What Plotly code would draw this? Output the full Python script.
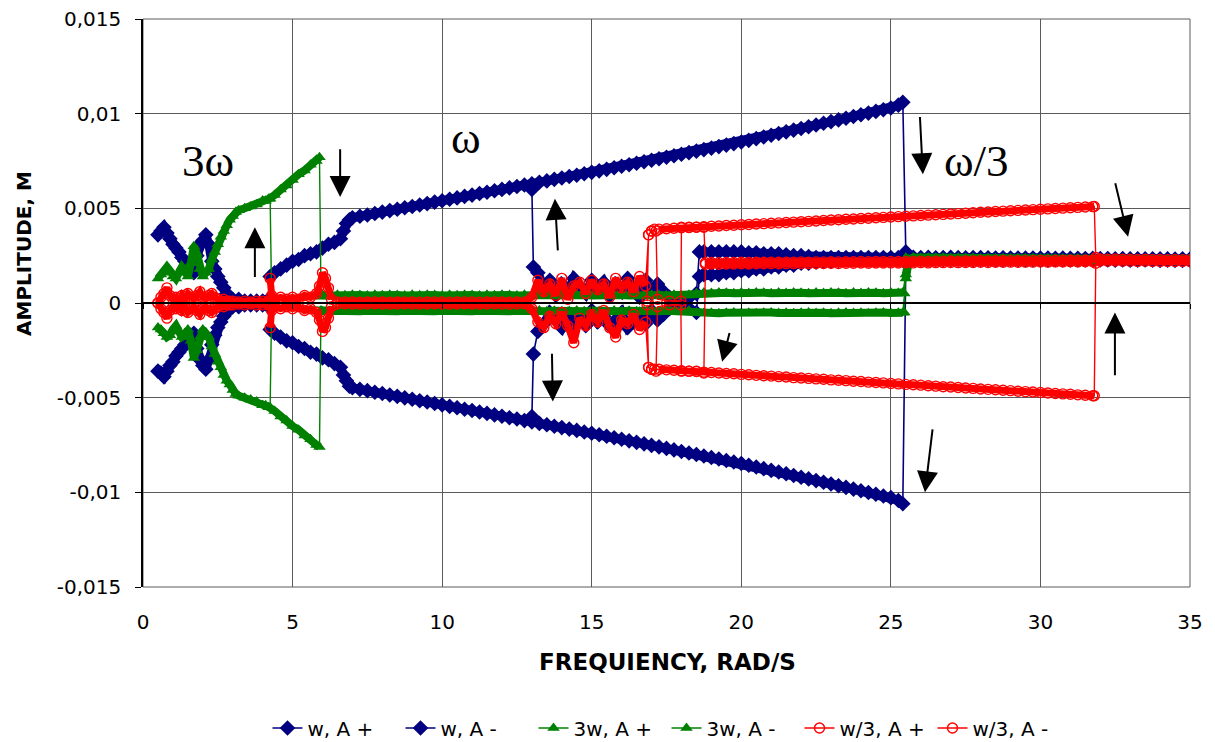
import plotly.graph_objects as go

# ---------------- frequency grids (rad/s) ----------------
X_A = [0.5, 0.6, 0.7, 0.8, 0.9, 1.0, 1.1, 1.2, 1.3, 1.4, 1.5, 1.6, 1.7, 1.8, 1.9,
       2.0, 2.1, 2.2, 2.3, 2.4, 2.5, 2.6, 2.7, 2.8, 2.9]
X_B = [3.0, 3.2, 3.4, 3.6, 3.8, 4.0, 4.2]
X_C = [4.25, 4.4, 4.6, 4.8, 5.0, 5.2, 5.4, 5.6, 5.8, 6.0, 6.2, 6.4, 6.6, 6.7, 6.8, 6.9]
X_D = [7.0, 7.25, 7.5, 7.75, 8.0, 8.25, 8.5, 8.75, 9.0, 9.25, 9.5, 9.75,
       10.0, 10.25, 10.5, 10.75, 11.0, 11.25, 11.5, 11.75, 12.0, 12.25, 12.5, 12.75,
       13.0, 13.25, 13.5, 13.75, 14.0, 14.25, 14.5, 14.75, 15.0, 15.25, 15.5, 15.75,
       16.0, 16.25, 16.5, 16.75, 17.0, 17.25, 17.5, 17.75, 18.0, 18.25, 18.5, 18.75,
       19.0, 19.25, 19.5, 19.75, 20.0, 20.25, 20.5, 20.75, 21.0, 21.25, 21.5, 21.75,
       22.0, 22.25, 22.5, 22.75, 23.0, 23.25, 23.5, 23.75, 24.0, 24.25, 24.5, 24.75,
       25.0, 25.25, 25.4]
X_E = [25.5, 25.6, 25.75, 26.0, 26.25, 26.5, 26.75, 27.0, 27.25, 27.5, 27.75, 28.0,
       28.25, 28.5, 28.75, 29.0, 29.25, 29.5, 29.75, 30.0, 30.25, 30.5, 30.75, 31.0,
       31.25, 31.5, 31.75, 32.0, 32.25, 32.5, 32.75, 33.0, 33.25, 33.5, 33.75, 34.0,
       34.25, 34.5, 34.75, 35.0]
X_F = [25.25, 25.0, 24.75, 24.5, 24.25, 24.0, 23.75, 23.5, 23.25, 23.0, 22.75, 22.5,
       22.25, 22.0, 21.75, 21.5, 21.25, 21.0, 20.75, 20.5, 20.25, 20.0, 19.75, 19.5,
       19.25, 19.0, 18.75, 18.6]
X_G = [18.5, 18.2, 17.9, 17.6, 17.4]
X_H = [17.2, 17.0, 16.8, 16.6, 16.4, 16.2, 16.0, 15.8, 15.6, 15.4, 15.2, 15.0, 14.8,
       14.6, 14.4, 14.2, 14.0, 13.8, 13.6, 13.4, 13.2]
X_I = [13.05, 13.0]

# ---------------- w (blue) ----------------
W_A_P = [0.0036, 0.0038, 0.0040, 0.0037, 0.0034, 0.0031, 0.0029, 0.0027, 0.0024, 0.0022,
         0.0020, 0.0018, 0.0016, 0.0025, 0.0031, 0.0033, 0.0036, 0.0031, 0.0022, 0.0018,
         0.0014, 0.0011, 0.0008, 0.0005, 0.0003]
W_A_M = [-0.0036, -0.0037, -0.0039, -0.0036, -0.0033, -0.0031, -0.0028, -0.0026, -0.0024, -0.0022,
         -0.0019, -0.0017, -0.0016, -0.0024, -0.0030, -0.0033, -0.0035, -0.0030, -0.0022, -0.0017,
         -0.0013, -0.0010, -0.0007, -0.0005, -0.0003]
W_B_P = [0.0002, 0.0002, 0.0001, 0.0001, 0.0001, 0.0001, 0.0002]
W_B_M = [-0.0002, -0.0002, -0.0001, -0.0001, -0.0001, -0.0001, -0.0002]
W_C_P = [0.0014, 0.0016, 0.0018, 0.0020, 0.0022, 0.0023, 0.0025, 0.0026, 0.0027, 0.0029,
         0.0031, 0.0032, 0.0034, 0.0038, 0.0042, 0.0044]
W_C_M = [-0.0014, -0.0016, -0.0018, -0.0020, -0.0021, -0.0023, -0.0024, -0.0026, -0.0027, -0.0029,
         -0.0030, -0.0032, -0.0034, -0.0038, -0.0041, -0.0044]
W_D_P = [0.00450, 0.00458, 0.00465, 0.00473, 0.00480, 0.00488, 0.00495, 0.00503, 0.00510, 0.00518, 0.00525, 0.00533,
         0.00540, 0.00548, 0.00555, 0.00563, 0.00570, 0.00578, 0.00585, 0.00593, 0.00600, 0.00608, 0.00615, 0.00623,
         0.00630, 0.00638, 0.00645, 0.00653, 0.00660, 0.00668, 0.00675, 0.00683, 0.00690, 0.00698, 0.00706, 0.00714,
         0.00722, 0.00730, 0.00738, 0.00746, 0.00754, 0.00762, 0.00770, 0.00778, 0.00786, 0.00794, 0.00802, 0.00810,
         0.00818, 0.00826, 0.00834, 0.00842, 0.00850, 0.00859, 0.00868, 0.00877, 0.00886, 0.00895, 0.00904, 0.00913,
         0.00922, 0.00931, 0.00940, 0.00949, 0.00958, 0.00967, 0.00976, 0.00985, 0.00994, 0.01003, 0.01012, 0.01021,
         0.01030, 0.01045, 0.01060]
W_D_M = [-0.00448, -0.00456, -0.00463, -0.00471, -0.00478, -0.00486, -0.00493, -0.00501, -0.00508, -0.00516, -0.00523, -0.00531,
         -0.00538, -0.00546, -0.00553, -0.00561, -0.00568, -0.00576, -0.00583, -0.00591, -0.00598, -0.00606, -0.00613, -0.00621,
         -0.00628, -0.00636, -0.00643, -0.00651, -0.00658, -0.00666, -0.00673, -0.00681, -0.00688, -0.00696, -0.00704, -0.00712,
         -0.00720, -0.00728, -0.00736, -0.00744, -0.00752, -0.00760, -0.00768, -0.00776, -0.00784, -0.00792, -0.00800, -0.00808,
         -0.00816, -0.00824, -0.00832, -0.00840, -0.00848, -0.00857, -0.00866, -0.00875, -0.00884, -0.00893, -0.00902, -0.00911,
         -0.00920, -0.00929, -0.00938, -0.00947, -0.00956, -0.00965, -0.00974, -0.00983, -0.00992, -0.01001, -0.01010, -0.01019,
         -0.01028, -0.01043, -0.01060]
W_E_P = [0.0027, 0.0025, 0.00242, 0.00240, 0.00241, 0.00239, 0.00240, 0.00241, 0.00240, 0.00239, 0.00240, 0.00240,
         0.00239, 0.00238, 0.00239, 0.00238, 0.00238, 0.00237, 0.00238, 0.00237, 0.00237, 0.00236, 0.00237, 0.00236,
         0.00236, 0.00235, 0.00236, 0.00235, 0.00235, 0.00234, 0.00235, 0.00234, 0.00234, 0.00233, 0.00234, 0.00233,
         0.00233, 0.00232, 0.00233, 0.00232]
W_E_M = [0.0021, 0.0022, 0.00230, 0.00231, 0.00230, 0.00231, 0.00230, 0.00230, 0.00231, 0.00230, 0.00229, 0.00230,
         0.00230, 0.00229, 0.00229, 0.00230, 0.00229, 0.00228, 0.00229, 0.00228, 0.00228, 0.00229, 0.00228, 0.00227,
         0.00228, 0.00227, 0.00227, 0.00228, 0.00227, 0.00226, 0.00227, 0.00226, 0.00226, 0.00227, 0.00226, 0.00225,
         0.00226, 0.00225, 0.00225, 0.00226]
W_F_P = [0.0024, 0.0024, 0.0024, 0.0024, 0.0024, 0.0024, 0.0024, 0.0024, 0.0024, 0.0024, 0.0024, 0.0024,
         0.00245, 0.0025, 0.0025, 0.00255, 0.0026, 0.0026, 0.0026, 0.00265, 0.00265, 0.0027, 0.0027, 0.0027,
         0.0027, 0.0027, 0.0027, 0.0027]
W_F_M = [0.0023, 0.0023, 0.0023, 0.0023, 0.0023, 0.0023, 0.0023, 0.0023, 0.00225, 0.0022, 0.0022, 0.00215,
         0.0021, 0.0021, 0.0020, 0.0020, 0.0019, 0.0019, 0.0018, 0.0018, 0.0017, 0.0017, 0.0016, 0.0016,
         0.0015, 0.0015, 0.0015, 0.0014]
W_G_P = [0.0005, 0.0002, 0.0002, 0.0003, 0.0006]
W_G_M = [-0.0005, -0.0002, -0.0002, -0.0003, -0.0006]
W_H_P = [0.0010, 0.0005, 0.0012, 0.0003, 0.0008, 0.0013, 0.0006, 0.0010, 0.0004, 0.0011, 0.0007, 0.0012,
         0.0005, 0.0009, 0.0013, 0.0006, 0.0010, 0.0004, 0.0012, 0.0008, 0.0016]
W_H_M = [-0.0009, -0.0004, -0.0011, -0.0006, -0.0010, -0.0013, -0.0005, -0.0009, -0.0012, -0.0007, -0.0010, -0.0004,
         -0.0012, -0.0008, -0.0011, -0.0006, -0.0013, -0.0009, -0.0005, -0.0011, -0.0015]
W_I_P = [0.0019, 0.0060]
W_I_M = [-0.0027, -0.0060]

# ---------------- 3w (green) ----------------
X_GB = [3.0, 3.1, 3.2, 3.4, 3.6, 3.8, 4.0, 4.2, 4.4, 4.6, 4.8, 5.0, 5.2, 5.4, 5.6, 5.8, 5.9]
X_GC = [5.95, 6.0, 6.25, 6.5, 6.75, 7.0, 7.25, 7.5, 7.75, 8.0, 8.25, 8.5, 8.75, 9.0, 9.25, 9.5, 9.75,
        10.0, 10.25, 10.5, 10.75, 11.0, 11.25, 11.5, 11.75, 12.0, 12.25, 12.5, 12.75, 13.0, 13.25, 13.5,
        13.75, 14.0, 14.25, 14.5, 14.75, 15.0, 15.25, 15.5, 15.75, 16.0, 16.25, 16.5, 16.75, 17.0, 17.25,
        17.5, 17.75, 18.0, 18.25, 18.5, 18.75, 19.0, 19.25, 19.5, 19.75, 20.0, 20.25, 20.5, 20.75, 21.0,
        21.25, 21.5, 21.75, 22.0, 22.25, 22.5, 22.75, 23.0, 23.25, 23.5, 23.75, 24.0, 24.25, 24.5, 24.75,
        25.0, 25.25, 25.4]
X_GF = [25.5, 25.45, 4.3, 4.25, 4.1, 4.0]

G_A_P = [0.0013, 0.0015, 0.0016, 0.0019, 0.0017, 0.0014, 0.0013, 0.0016, 0.0019, 0.0017,
         0.0014, 0.0021, 0.0030, 0.0026, 0.0018, 0.0014, 0.0016, 0.0018, 0.0023, 0.0027,
         0.0031, 0.0035, 0.0038, 0.0041, 0.0044]
G_A_M = [-0.0013, -0.0014, -0.0016, -0.0018, -0.0017, -0.0014, -0.0012, -0.0015, -0.0018, -0.0017,
         -0.0014, -0.0020, -0.0029, -0.0025, -0.0018, -0.0014, -0.0016, -0.0018, -0.0023, -0.0027,
         -0.0031, -0.0034, -0.0038, -0.0041, -0.0043]
G_B_P = [0.0046, 0.0048, 0.0049, 0.0050, 0.0051, 0.0052, 0.0054, 0.0055, 0.0057, 0.0060,
         0.0062, 0.0065, 0.0068, 0.0070, 0.0073, 0.0075, 0.0077]
G_B_M = [-0.0046, -0.0048, -0.0049, -0.0050, -0.0051, -0.0052, -0.0054, -0.0055, -0.0057, -0.0060,
         -0.0062, -0.0065, -0.0067, -0.0070, -0.0072, -0.0075, -0.0076]
G_C_P = [0.00040,
         0.00042, 0.00040, 0.00043, 0.00041, 0.00044, 0.00042, 0.00040, 0.00043, 0.00041, 0.00044,
         0.00042, 0.00040, 0.00043, 0.00041, 0.00044, 0.00042, 0.00040, 0.00043, 0.00041, 0.00044,
         0.00042, 0.00040, 0.00043, 0.00041, 0.00044, 0.00042, 0.00040, 0.00043, 0.00041, 0.00044,
         0.00042, 0.00040, 0.00043, 0.00041, 0.00044, 0.00042, 0.00040, 0.00043, 0.00041, 0.00044,
         0.00042, 0.00040, 0.00043, 0.00041, 0.00044, 0.00042, 0.00040, 0.00043, 0.00041, 0.00044,
         0.00052, 0.00055, 0.00053, 0.00056, 0.00054, 0.00052, 0.00055, 0.00053, 0.00056, 0.00054,
         0.00052, 0.00055, 0.00053, 0.00056, 0.00054, 0.00052, 0.00055, 0.00053, 0.00056, 0.00054,
         0.00052, 0.00055, 0.00053, 0.00056, 0.00054, 0.00052, 0.00055, 0.00053,
         0.00055]
G_C_M = [-0.00040,
         -0.00043, -0.00041, -0.00044, -0.00042, -0.00040, -0.00043, -0.00041, -0.00044, -0.00042, -0.00040,
         -0.00043, -0.00041, -0.00044, -0.00042, -0.00040, -0.00043, -0.00041, -0.00044, -0.00042, -0.00040,
         -0.00043, -0.00041, -0.00044, -0.00042, -0.00040, -0.00043, -0.00041, -0.00044, -0.00042, -0.00040,
         -0.00043, -0.00041, -0.00044, -0.00042, -0.00040, -0.00043, -0.00041, -0.00044, -0.00042, -0.00040,
         -0.00043, -0.00041, -0.00044, -0.00042, -0.00040, -0.00043, -0.00041, -0.00044, -0.00042, -0.00040,
         -0.00050, -0.00053, -0.00051, -0.00054, -0.00052, -0.00050, -0.00053, -0.00051, -0.00054, -0.00052,
         -0.00050, -0.00053, -0.00051, -0.00054, -0.00052, -0.00050, -0.00053, -0.00051, -0.00054, -0.00052,
         -0.00050, -0.00053, -0.00051, -0.00054, -0.00052, -0.00050, -0.00053, -0.00051,
         -0.00052]
G_E_P = [0.0015, 0.0023, 0.00240, 0.00239, 0.00240, 0.00239, 0.00239, 0.00238, 0.00239, 0.00238, 0.00238, 0.00237,
         0.00238, 0.00237, 0.00237, 0.00236, 0.00237, 0.00236, 0.00236, 0.00235, 0.00236, 0.00235, 0.00235, 0.00234,
         0.00235, 0.00234, 0.00234, 0.00233, 0.00234, 0.00233, 0.00233, 0.00233, 0.00232, 0.00233, 0.00232, 0.00232,
         0.00231, 0.00232, 0.00231, 0.00231]
G_E_M = [0.0013, 0.0022, 0.00232, 0.00231, 0.00232, 0.00231, 0.00231, 0.00230, 0.00231, 0.00230, 0.00230, 0.00229,
         0.00230, 0.00229, 0.00229, 0.00228, 0.00229, 0.00228, 0.00228, 0.00227, 0.00228, 0.00227, 0.00227, 0.00226,
         0.00227, 0.00226, 0.00226, 0.00225, 0.00226, 0.00225, 0.00225, 0.00225, 0.00224, 0.00225, 0.00224, 0.00224,
         0.00223, 0.00224, 0.00223, 0.00223]
G_F_P = [0.0024, 0.0005, 0.0002, 0.0055, 0.0054, 0.0054]
G_F_M = [0.0023, -0.0005, -0.0002, -0.0055, -0.0054, -0.0054]

# ---------------- w/3 (red) ----------------
X_RC = [4.25, 4.3, 4.4, 4.6, 4.8, 5.0, 5.2, 5.4, 5.6, 5.8, 5.9, 6.0, 6.1, 6.2, 6.3]
X_RD = [6.5, 6.75, 7.0, 7.25, 7.5, 7.75, 8.0, 8.25, 8.5, 8.75, 9.0, 9.25, 9.5, 9.75, 10.0, 10.25,
        10.5, 10.75, 11.0, 11.25, 11.5, 11.75, 12.0, 12.25, 12.5, 12.75]
X_RE = [13.0, 13.2, 13.4, 13.6, 13.8, 14.0, 14.2, 14.4, 14.6, 14.8, 15.0, 15.2, 15.4, 15.6, 15.8,
        16.0, 16.2, 16.4, 16.6, 16.8]
X_RF = [16.9, 17.0, 17.1]
X_RG = [17.25, 17.5, 17.75, 18.0, 18.25, 18.5, 18.75, 19.0, 19.25, 19.5, 19.75, 20.0, 20.25, 20.5,
        20.75, 21.0, 21.25, 21.5, 21.75, 22.0, 22.25, 22.5, 22.75, 23.0, 23.25, 23.5, 23.75, 24.0,
        24.25, 24.5, 24.75, 25.0, 25.25, 25.5, 25.75, 26.0, 26.25, 26.5, 26.75, 27.0, 27.25, 27.5,
        27.75, 28.0, 28.25, 28.5, 28.75, 29.0, 29.25, 29.5, 29.75, 30.0, 30.25, 30.5, 30.75, 31.0,
        31.25, 31.5, 31.75, 31.8]
X_RH = [31.85, 32.0, 32.25, 32.5, 32.75, 33.0, 33.25, 33.5, 33.75, 34.0, 34.25, 34.5, 34.75, 35.0]
X_RI = [31.75, 31.5, 31.25, 31.0, 30.75, 30.5, 30.25, 30.0, 29.75, 29.5, 29.25, 29.0, 28.75, 28.5,
        28.25, 28.0, 27.75, 27.5, 27.25, 27.0, 26.75, 26.5, 26.25, 26.0, 25.75, 25.5, 25.25, 25.0,
        24.75, 24.5, 24.25, 24.0, 23.75, 23.5, 23.25, 23.0, 22.75, 22.5, 22.25, 22.0, 21.75, 21.5,
        21.25, 21.0, 20.75, 20.5, 20.25, 20.0, 19.75, 19.5, 19.25, 19.0, 18.8]
X_RJ = [18.75, 18.5, 18.25, 18.0, 17.98, 17.6, 17.2, 17.15, 17.0, 16.9, 16.85]

R_A_P = [0.0000, 0.0003, 0.0005, 0.0008, 0.0004, 0.0002, 0.0003, 0.0001, 0.0004, 0.0002,
         0.0005, 0.0003, 0.0002, 0.0004, 0.0006, 0.0003, 0.0002, 0.0004, 0.0005, 0.0003,
         0.0002, 0.0001, 0.0002, 0.0001, 0.0001]
R_A_M = [0.0000, -0.0003, -0.0005, -0.0008, -0.0004, -0.0002, -0.0003, -0.0001, -0.0004, -0.0002,
         -0.0005, -0.0003, -0.0002, -0.0004, -0.0006, -0.0003, -0.0002, -0.0004, -0.0005, -0.0003,
         -0.0002, -0.0001, -0.0002, -0.0001, -0.0001]
R_B_P = [0.0001, 0.00005, 0.0001, 0.00005, 0.0001, 0.0001, 0.0001]
R_B_M = [-0.0001, -0.00005, -0.0001, -0.00005, -0.0001, -0.0001, -0.0001]
R_C_P = [0.0013, 0.0004, 0.0002, 0.0003, 0.0002, 0.0003, 0.0002, 0.0004, 0.0003, 0.0005,
         0.0009, 0.0016, 0.0013, 0.0008, 0.0002]
R_C_M = [-0.0013, -0.0004, -0.0002, -0.0003, -0.0002, -0.0003, -0.0002, -0.0004, -0.0003, -0.0005,
         -0.0009, -0.0015, -0.0013, -0.0008, -0.0002]
R_D_P = [0.00005, 0.00006, 0.00005, 0.00004, 0.00005, 0.00006, 0.00005, 0.00004, 0.00005, 0.00006,
         0.00005, 0.00004, 0.00005, 0.00006, 0.00005, 0.00004, 0.00005, 0.00006, 0.00005, 0.00004,
         0.00005, 0.00006, 0.00005, 0.00004, 0.00005, 0.00006]
R_D_M = [-0.00005, -0.00004, -0.00005, -0.00006, -0.00005, -0.00004, -0.00005, -0.00006, -0.00005, -0.00004,
         -0.00005, -0.00006, -0.00005, -0.00004, -0.00005, -0.00006, -0.00005, -0.00004, -0.00005, -0.00006,
         -0.00005, -0.00004, -0.00005, -0.00006, -0.00005, -0.00004]
R_E_P = [0.0003, 0.0012, 0.0006, 0.0010, 0.0004, 0.0013, 0.0002, 0.0009, 0.0011, 0.0005,
         0.0012, 0.0007, 0.0010, 0.0003, 0.0013, 0.0008, 0.0011, 0.0006, 0.0014, 0.0009]
R_E_M = [-0.0003, -0.0010, -0.0013, -0.0007, -0.0011, -0.0005, -0.0012, -0.0021, -0.0008, -0.0012,
         -0.0006, -0.0010, -0.0004, -0.0013, -0.0018, -0.0009, -0.0011, -0.0006, -0.0014, -0.0010]
R_F_P = [0.0036, 0.0038, 0.0039]
R_F_M = [-0.0034, -0.0035, -0.0035]
R_G_P = [0.00390, 0.00392, 0.00395, 0.00397, 0.00399, 0.00401, 0.00403, 0.00405, 0.00407, 0.00409,
         0.00411, 0.00413, 0.00415, 0.00417, 0.00419, 0.00421, 0.00423, 0.00425, 0.00427, 0.00429,
         0.00431, 0.00433, 0.00436, 0.00438, 0.00440, 0.00442, 0.00444, 0.00446, 0.00448, 0.00450,
         0.00452, 0.00454, 0.00456, 0.00458, 0.00460, 0.00462, 0.00464, 0.00466, 0.00468, 0.00470,
         0.00472, 0.00474, 0.00477, 0.00479, 0.00481, 0.00483, 0.00485, 0.00487, 0.00489, 0.00491,
         0.00493, 0.00495, 0.00497, 0.00499, 0.00501, 0.00503, 0.00505, 0.00507, 0.00509, 0.00510]
R_G_M = [-0.00350, -0.00353, -0.00355, -0.00358, -0.00360, -0.00362, -0.00365, -0.00367, -0.00370, -0.00372,
         -0.00374, -0.00377, -0.00379, -0.00382, -0.00384, -0.00386, -0.00389, -0.00391, -0.00394, -0.00396,
         -0.00398, -0.00401, -0.00403, -0.00406, -0.00408, -0.00410, -0.00413, -0.00415, -0.00418, -0.00420,
         -0.00422, -0.00425, -0.00427, -0.00430, -0.00432, -0.00434, -0.00437, -0.00439, -0.00442, -0.00444,
         -0.00446, -0.00449, -0.00451, -0.00454, -0.00456, -0.00458, -0.00461, -0.00463, -0.00466, -0.00468,
         -0.00470, -0.00473, -0.00475, -0.00478, -0.00480, -0.00482, -0.00485, -0.00487, -0.00490, -0.00490]
R_H_P = [0.0024, 0.00232, 0.00231, 0.00232, 0.00231, 0.00231, 0.00230, 0.00231, 0.00230, 0.00230,
         0.00229, 0.00230, 0.00229, 0.00229]
R_H_M = [0.0021, 0.00222, 0.00221, 0.00222, 0.00221, 0.00221, 0.00220, 0.00221, 0.00220, 0.00220,
         0.00219, 0.00220, 0.00219, 0.00219]
R_I_P = [0.00226, 0.00226, 0.00225, 0.00226, 0.00225, 0.00225, 0.00224, 0.00225, 0.00224, 0.00224,
         0.00223, 0.00224, 0.00223, 0.00223, 0.00222, 0.00223, 0.00222, 0.00222, 0.00221, 0.00222,
         0.00221, 0.00221, 0.00220, 0.00221, 0.00220, 0.00220, 0.00219, 0.00220, 0.00219, 0.00219,
         0.00218, 0.00219, 0.00218, 0.00218, 0.00217, 0.00218, 0.00217, 0.00217, 0.00216, 0.00217,
         0.00216, 0.00216, 0.00215, 0.00216, 0.00215, 0.00215, 0.00214, 0.00215, 0.00214, 0.00214,
         0.00213, 0.00214, 0.00213]
R_I_M = [0.00218, 0.00218, 0.00217, 0.00218, 0.00217, 0.00217, 0.00216, 0.00217, 0.00216, 0.00216,
         0.00215, 0.00216, 0.00215, 0.00215, 0.00214, 0.00215, 0.00214, 0.00214, 0.00213, 0.00214,
         0.00213, 0.00213, 0.00212, 0.00213, 0.00212, 0.00212, 0.00211, 0.00212, 0.00211, 0.00211,
         0.00210, 0.00211, 0.00210, 0.00210, 0.00209, 0.00210, 0.00209, 0.00209, 0.00208, 0.00209,
         0.00208, 0.00208, 0.00207, 0.00208, 0.00207, 0.00207, 0.00206, 0.00207, 0.00206, 0.00206,
         0.00205, 0.00206, 0.00205]
R_J_P = [0.0040, 0.0040, 0.0040, 0.0040, 0.0001, 0.0001, 0.0002, 0.0038, 0.0038, 0.0036, 0.0001]
R_J_M = [-0.0037, -0.0036, -0.0036, -0.0036, -0.0001, -0.0001, -0.0002, -0.0036, -0.0035, -0.0034, -0.0001]

# ---------------- axis ticks / names ----------------
X_TICKS = [0, 5, 10, 15, 20, 25, 30, 35]
Y_TICKS = [-0.015, -0.01, -0.005, 0, 0.005, 0.01, 0.015]
Y_TICK_TEXT = ["-0,015", "-0,01", "-0,005", "0", "0,005", "0,01", "0,015"]
SERIES_NAMES = ["w, A +", "w, A -", "3w, A +", "3w, A -", "w/3, A +", "w/3, A -"]


def join(xs, ys):
    ox, oy = [], []
    for a, b in zip(xs, ys):
        assert len(a) == len(b), (len(a), len(b))
        ox += a
        oy += b
    return ox, oy


def pieces(parts):
    """Dense-marker bands: several joined pieces separated by gaps."""
    ox, oy = [], []
    for xs, ys in parts:
        px, py = join(xs, ys)
        ox += px + [None]
        oy += py + [None]
    return ox, oy


SERIES = [
    (join([X_A, X_B, X_C, X_D, X_E, X_F, X_G, X_H, X_I],
          [W_A_P, W_B_P, W_C_P, W_D_P, W_E_P, W_F_P, W_G_P, W_H_P, W_I_P]),
     pieces([([X_A, X_B], [W_A_P, W_B_P]), ([X_C, X_D], [W_C_P, W_D_P]), ([X_E], [W_E_P]),
             ([X_F], [W_F_P]), ([X_H], [W_H_P])])),
    (join([X_A, X_B, X_C, X_D, X_E, X_F, X_G, X_H, X_I],
          [W_A_M, W_B_M, W_C_M, W_D_M, W_E_M, W_F_M, W_G_M, W_H_M, W_I_M]),
     pieces([([X_A, X_B], [W_A_M, W_B_M]), ([X_C, X_D], [W_C_M, W_D_M]), ([X_E], [W_E_M]),
             ([X_F], [W_F_M]), ([X_H], [W_H_M])])),
    (join([X_A, X_GB, X_GC, X_E, X_GF], [G_A_P, G_B_P, G_C_P, G_E_P, G_F_P]),
     pieces([([X_A, X_GB], [G_A_P, G_B_P]), ([X_GC], [G_C_P]), ([X_E], [G_E_P])])),
    (join([X_A, X_GB, X_GC, X_E, X_GF], [G_A_M, G_B_M, G_C_M, G_E_M, G_F_M]),
     pieces([([X_A, X_GB], [G_A_M, G_B_M]), ([X_GC], [G_C_M]), ([X_E], [G_E_M])])),
    (join([X_A, X_B, X_RC, X_RD, X_RE, X_RF, X_RG, X_RH, X_RI, X_RJ],
          [R_A_P, R_B_P, R_C_P, R_D_P, R_E_P, R_F_P, R_G_P, R_H_P, R_I_P, R_J_P]),
     pieces([([X_A, X_B], [R_A_P, R_B_P]), ([X_RC], [R_C_P]), ([X_RD, X_RE], [R_D_P, R_E_P]),
             ([X_RG], [R_G_P]), ([X_RH], [R_H_P]), ([X_RI], [R_I_P])])),
    (join([X_A, X_B, X_RC, X_RD, X_RE, X_RF, X_RG, X_RH, X_RI, X_RJ],
          [R_A_M, R_B_M, R_C_M, R_D_M, R_E_M, R_F_M, R_G_M, R_H_M, R_I_M, R_J_M]),
     pieces([([X_A, X_B], [R_A_M, R_B_M]), ([X_RC], [R_C_M]), ([X_RD, X_RE], [R_D_M, R_E_M]),
             ([X_RG], [R_G_M]), ([X_RH], [R_H_M]), ([X_RI], [R_I_M])])),
]

BLUE, GREEN, RED = "#000080", "#008000", "#FF0000"
STYLES = [
    (BLUE, dict(symbol="diamond", size=12, color=BLUE), 1.6, 9),
    (BLUE, dict(symbol="diamond", size=12, color=BLUE), 1.6, 9),
    (GREEN, dict(symbol="triangle-up", size=11, color=GREEN), 1.4, 8),
    (GREEN, dict(symbol="triangle-up", size=11, color=GREEN), 1.4, 8),
    (RED, dict(symbol="circle-open", size=10, color=RED, line=dict(width=1.4, color=RED)), 1.4, 7),
    (RED, dict(symbol="circle-open", size=10, color=RED, line=dict(width=1.4, color=RED)), 1.4, 7),
]

fig = go.Figure()
for name, ((xs, ys), (bx, by)), (col, mk, lw, bw) in zip(SERIES_NAMES, SERIES, STYLES):
    fig.add_trace(go.Scatter(x=bx, y=by, mode="lines", line=dict(color=col, width=bw),
                             connectgaps=False, showlegend=False, hoverinfo="skip",
                             legendgroup=name))
    fig.add_trace(go.Scatter(x=xs, y=ys, mode="lines+markers", name=name, legendgroup=name,
                             line=dict(color=col, width=lw), marker=mk))
# helper axis drawn along y = 0 (category axis crossing at zero)
fig.add_trace(go.Scatter(x=[None], y=[None], xaxis="x2", showlegend=False, hoverinfo="skip"))

FONT = "DejaVu Sans, Verdana, sans-serif"
SERIF = "Liberation Serif, Times New Roman, serif"
GRID = "#5a5a5a"

fig.update_layout(
    width=1207, height=734,
    margin=dict(l=135, r=25, t=11, b=155, autoexpand=False),
    plot_bgcolor="white", paper_bgcolor="white",
    font=dict(family=FONT, size=20, color="black"),
    showlegend=True,
    legend=dict(orientation="h", x=0.5, xanchor="center", xref="paper",
                y=0.019, yanchor="middle", yref="container",
                font=dict(size=20, family=FONT), bgcolor="rgba(0,0,0,0)",
                entrywidth=88, entrywidthmode="pixels", traceorder="normal"),
    xaxis=dict(range=[0, 35], tickvals=X_TICKS, showgrid=True, gridcolor=GRID, gridwidth=1,
               zeroline=False, showline=False, ticks="", ticklabelstandoff=21,
               tickfont=dict(size=20), automargin=False),
    xaxis2=dict(overlaying="x", anchor="free", position=0.5, side="bottom", range=[0, 35],
                tickvals=X_TICKS, showticklabels=False, ticks="outside", ticklen=5,
                tickcolor="black", showline=True, linecolor="black", linewidth=1.5,
                showgrid=False, zeroline=False, automargin=False),
    yaxis=dict(range=[-0.015, 0.015], tickvals=Y_TICKS, ticktext=Y_TICK_TEXT, showgrid=True,
               gridcolor=GRID, gridwidth=1, zeroline=False, showline=True, linecolor="black",
               linewidth=1.5, ticks="outside", ticklen=6, tickcolor="black",
               ticklabelstandoff=10, tickfont=dict(size=20), automargin=False,
               ticklabeloverflow="allow"),
)

# plot-area frame (gridlines at the range edges)
fig.add_shape(type="rect", xref="paper", yref="paper", x0=0, y0=0, x1=1, y1=1,
              line=dict(color=GRID, width=1), layer="below")

# axis titles
fig.add_annotation(text="<b>FREQUIENCY, RAD/S</b>", xref="paper", yref="paper", x=0.5005,
                   y=-0.132, xanchor="center", yanchor="middle", showarrow=False,
                   font=dict(size=23, family=FONT))
fig.add_annotation(text="<b>AMPLITUDE, M</b>", xref="paper", yref="paper", x=-0.1137,
                   y=0.588, xanchor="center", yanchor="middle", textangle=-90,
                   showarrow=False, font=dict(size=20, family=FONT))

# branch labels
for txt, lx, ly in [("3ω", 2.16, 0.0075), ("ω", 10.8, 0.0087), ("ω/3", 27.85, 0.0075)]:
    fig.add_annotation(text=txt, x=lx, y=ly, xref="x", yref="y", showarrow=False,
                       font=dict(size=45, family=SERIF, color="black"))

# jump arrows: (head x, head y, tail x, tail y)
ARROWS = [(6.59, 0.0056, 6.59, 0.0082), (3.74, 0.0040, 3.74, 0.0013),
          (13.77, 0.0055, 13.87, 0.0027), (13.70, -0.0052, 13.67, -0.0026),
          (19.36, -0.0031, 19.62, -0.0015), (26.07, 0.0068, 25.97, 0.0099),
          (26.14, -0.0100, 26.40, -0.0066), (32.93, 0.0035, 32.49, 0.0064),
          (32.49, -0.0005, 32.49, -0.0039)]
for hx, hy, tx, ty in ARROWS:
    fig.add_annotation(x=hx, y=hy, ax=tx, ay=ty, xref="x", yref="y", axref="x", ayref="y",
                       text="", showarrow=True, arrowhead=2, arrowsize=2.1, arrowwidth=2,
                       arrowcolor="black", standoff=0, startstandoff=0)

fig.write_html("out.html")
